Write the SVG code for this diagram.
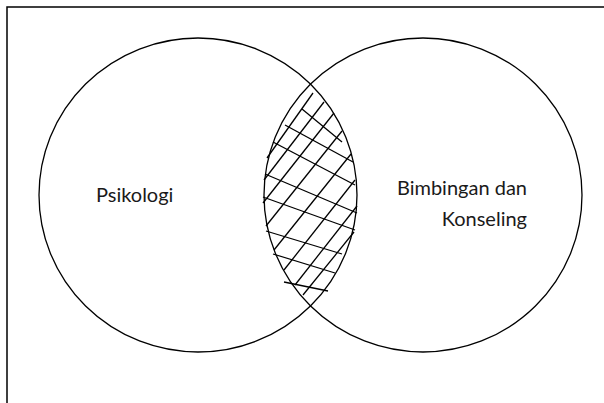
<svg xmlns="http://www.w3.org/2000/svg" width="604" height="403" viewBox="0 0 604 403">
<style>
.c{fill:none;stroke:#000;stroke-width:1.3}
.h{stroke:#000;stroke-width:1.3;fill:none}
.t{font-family:Lato,"Open Sans","Liberation Sans",sans-serif;font-size:20px;fill:#1a1a1a}
</style>
<rect x="0" y="0" width="604" height="403" fill="#fff"/>
<rect x="7" y="7" width="700" height="500" fill="none" stroke="#000" stroke-width="1.5"/>
<g id="psikologi">
<ellipse class="c" cx="198" cy="195" rx="159" ry="157"/>
<text class="t" x="96" y="202">Psikologi</text>
</g>
<g id="bimbingan">
<ellipse class="c" cx="423" cy="195" rx="159" ry="157"/>
<text class="t" x="527" y="195" text-anchor="end">Bimbingan dan</text>
<text class="t" x="527" y="226" text-anchor="end">Konseling</text>
</g>
<g id="connectors">
<g id="hatch">
<line class="h" x1="302" y1="109" x2="342" y2="142"/>
<line class="h" x1="285" y1="125" x2="353" y2="162"/>
<line class="h" x1="273" y1="142" x2="355" y2="185"/>
<line class="h" x1="265" y1="174" x2="357" y2="213"/>
<line class="h" x1="263" y1="197" x2="355" y2="230"/>
<line class="h" x1="266" y1="231" x2="342" y2="254"/>
<line class="h" x1="273" y1="254" x2="335" y2="273"/>
<line class="h" x1="284" y1="282" x2="328" y2="291"/>
<line class="h" x1="267" y1="158" x2="313" y2="93"/>
<line class="h" x1="264" y1="180" x2="324" y2="102"/>
<line class="h" x1="263" y1="203" x2="334" y2="113"/>
<line class="h" x1="266" y1="226" x2="342" y2="131"/>
<line class="h" x1="274" y1="250" x2="351" y2="154"/>
<line class="h" x1="284" y1="270" x2="355" y2="180"/>
<line class="h" x1="295" y1="285" x2="357" y2="206"/>
<line class="h" x1="303" y1="295" x2="354" y2="232"/>
</g>
</g>
</svg>
